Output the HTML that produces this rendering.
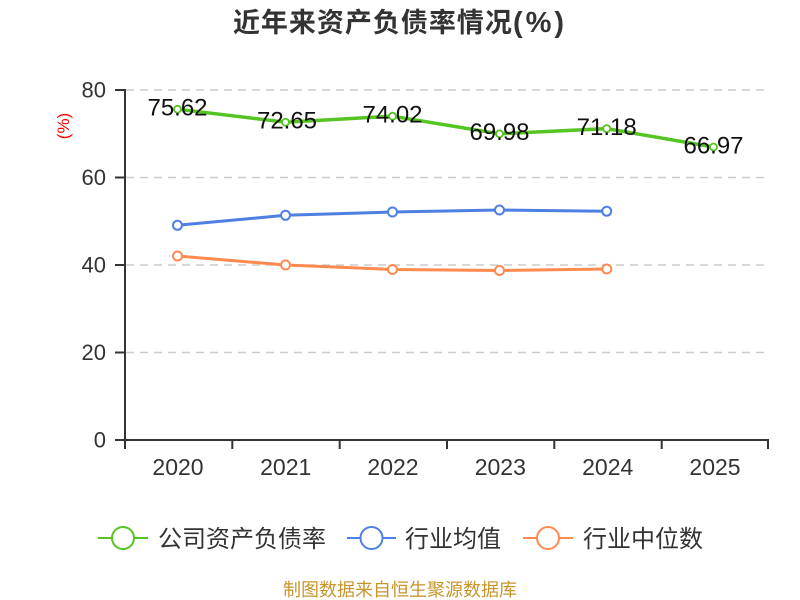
<!DOCTYPE html>
<html><head><meta charset="utf-8"><style>
html,body{margin:0;padding:0;background:#fff;}
svg{display:block;}
text{font-family:"Liberation Sans","Noto Sans CJK SC",sans-serif;}
</style></head><body>
<svg width="800" height="600" viewBox="0 0 800 600" xmlns="http://www.w3.org/2000/svg">
<text x="400" y="32" text-anchor="middle" font-size="27" font-weight="bold" fill="#333" letter-spacing="1">近年来资产负债率情况<tspan font-size="29" letter-spacing="3">(%)</tspan></text>
<text transform="translate(69,126) rotate(-90)" text-anchor="middle" font-size="17" fill="#f00">(%)</text>
<g stroke="#ccc" stroke-width="1.5" stroke-dasharray="8,6">
<line x1="126" y1="90" x2="768" y2="90"/>
<line x1="126" y1="177.5" x2="768" y2="177.5"/>
<line x1="126" y1="265" x2="768" y2="265"/>
<line x1="126" y1="352.5" x2="768" y2="352.5"/>
</g>
<g stroke="#333" stroke-width="2">
<line x1="125" y1="89" x2="125" y2="441"/>
<line x1="124" y1="440" x2="769" y2="440"/>
<line x1="115" y1="90" x2="125" y2="90"/>
<line x1="115" y1="177.5" x2="125" y2="177.5"/>
<line x1="115" y1="265" x2="125" y2="265"/>
<line x1="115" y1="352.5" x2="125" y2="352.5"/>
<line x1="115" y1="440" x2="125" y2="440"/>
<line x1="125" y1="440" x2="125" y2="449"/>
<line x1="232.3" y1="440" x2="232.3" y2="449"/>
<line x1="339.7" y1="440" x2="339.7" y2="449"/>
<line x1="447" y1="440" x2="447" y2="449"/>
<line x1="554.3" y1="440" x2="554.3" y2="449"/>
<line x1="661.7" y1="440" x2="661.7" y2="449"/>
<line x1="768" y1="440" x2="768" y2="449"/>
</g>
<g font-size="22" fill="#333" text-anchor="end">
<text x="106" y="97.5">80</text>
<text x="106" y="185">60</text>
<text x="106" y="272.5">40</text>
<text x="106" y="360">20</text>
<text x="106" y="447.5">0</text>
</g>
<g font-size="23" fill="#333" text-anchor="middle">
<text x="178" y="475">2020</text>
<text x="285.7" y="475">2021</text>
<text x="393" y="475">2022</text>
<text x="500.3" y="475">2023</text>
<text x="607.7" y="475">2024</text>
<text x="715" y="475">2025</text>
</g>
<!-- orange -->
<polyline fill="none" stroke="#ff8a50" stroke-width="3" stroke-linejoin="round" points="177.5,256 285.5,265 392.5,269.5 499.5,270.5 606.7,269"/>
<g fill="#fff" stroke="#ff8a50" stroke-width="2">
<circle cx="177.5" cy="256" r="4.5"/><circle cx="285.5" cy="265" r="4.5"/><circle cx="392.5" cy="269.5" r="4.5"/><circle cx="499.5" cy="270.5" r="4.5"/><circle cx="606.7" cy="269" r="4.5"/>
</g>
<!-- blue -->
<polyline fill="none" stroke="#4e80e4" stroke-width="3" stroke-linejoin="round" points="177.5,225.3 285.5,215.3 392.5,212 499.5,210 606.7,211.2"/>
<g fill="#fff" stroke="#4e80e4" stroke-width="2">
<circle cx="177.5" cy="225.3" r="4.5"/><circle cx="285.5" cy="215.3" r="4.5"/><circle cx="392.5" cy="212" r="4.5"/><circle cx="499.5" cy="210" r="4.5"/><circle cx="606.7" cy="211.2" r="4.5"/>
</g>
<!-- green -->
<polyline fill="none" stroke="#56c422" stroke-width="3.5" stroke-linejoin="round" points="177.5,109.2 285.5,122.2 392.5,116.2 499.5,133.8 606.7,128.6 713.5,147"/>
<g fill="#fff" stroke="#56c422" stroke-width="1.8">
<circle cx="177.5" cy="109.2" r="3.5"/><circle cx="285.5" cy="122.2" r="3.5"/><circle cx="392.5" cy="116.2" r="3.5"/><circle cx="499.5" cy="133.8" r="3.5"/><circle cx="606.7" cy="128.6" r="3.5"/><circle cx="713.5" cy="147" r="3.5"/>
</g>
<g font-size="24" fill="#111" text-anchor="middle">
<text x="177.5" y="115.5">75.62</text>
<text x="287" y="128.5">72.65</text>
<text x="392.5" y="122.5">74.02</text>
<text x="499.5" y="140">69.98</text>
<text x="606.7" y="135">71.18</text>
<text x="713.5" y="153.5">66.97</text>
</g>
<!-- legend -->
<g stroke-width="2" fill="#fff">
<line x1="98" y1="538" x2="148" y2="538" stroke="#56c422"/>
<circle cx="123" cy="538" r="11" stroke="#56c422"/>
<line x1="347" y1="538" x2="396" y2="538" stroke="#4e80e4"/>
<circle cx="371.5" cy="538" r="11" stroke="#4e80e4"/>
<line x1="523" y1="538" x2="573" y2="538" stroke="#ff8a50"/>
<circle cx="548" cy="538" r="11" stroke="#ff8a50"/>
</g>
<g font-size="24" fill="#333">
<text x="158" y="547">公司资产负债率</text>
<text x="405" y="547">行业均值</text>
<text x="583" y="547">行业中位数</text>
</g>
<text x="400" y="596" text-anchor="middle" font-size="18" fill="#c8952a">制图数据来自恒生聚源数据库</text>
</svg>
</body></html>
